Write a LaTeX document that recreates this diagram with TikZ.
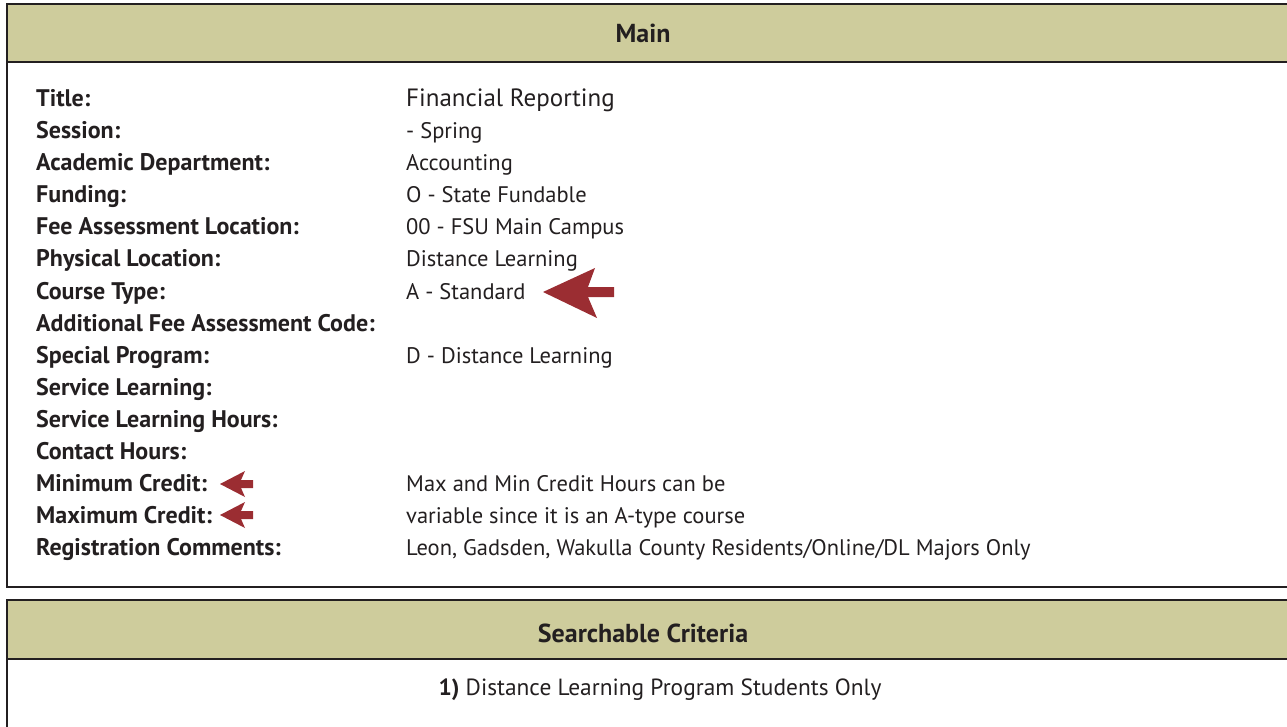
\documentclass[tikz,border=0pt]{standalone}
\usepackage{fontspec}
\setmainfont{PT Sans}
\definecolor{hdrfill}{RGB}{206,204,156}
\definecolor{edge}{RGB}{35,31,32}
\definecolor{arrowred}{RGB}{155,45,50}
\tikzset{
  lbl/.style={anchor=base west,inner sep=0pt,font=\fontsize{24}{24}\selectfont\bfseries,text=edge},
  val/.style={anchor=base west,inner sep=0pt,font=\fontsize{22.5}{22.5}\selectfont,text=edge},
  head/.style={anchor=base,inner sep=0pt,font=\fontsize{26}{26}\selectfont\bfseries,text=edge},
  panel/.style={draw=edge,line width=2.5pt},
  pointer/.style={fill=arrowred,draw=none}
}
\begin{document}
\begin{tikzpicture}[x=1pt,y=-1pt]
  \useasboundingbox (0,0) rectangle (1287,727);

  % main panel
  \fill[hdrfill] (7,4) rectangle (1300,62);
  \draw[panel] (1300,4) -- (7,4) -- (7,587) -- (1300,587);
  \draw[panel] (7,62) -- (1300,62);
  \node[head] (main) at (643,43) {Main};

  \node[lbl] (title)   at (36,107) {Title:};
  \node[lbl] (session) at (36,139) {Session:};
  \node[lbl] (dept)    at (36,171) {Academic Department:};
  \node[lbl] (fund)    at (36,203) {Funding:};
  \node[lbl] (feeloc)  at (36,235) {Fee Assessment Location:};
  \node[lbl] (physloc) at (36,267) {Physical Location:};
  \node[lbl] (ctype)   at (36,299) {Course Type:};
  \node[lbl] (addfee)  at (36,331) {Additional Fee Assessment Code:};
  \node[lbl] (special) at (36,363) {Special Program:};
  \node[lbl] (svc)     at (36,395) {Service Learning:};
  \node[lbl] (svchrs)  at (36,427) {Service Learning Hours:};
  \node[lbl] (contact) at (36,459) {Contact Hours:};
  \node[lbl] (mincr)   at (36,491) {Minimum Credit:};
  \node[lbl] (maxcr)   at (36,523) {Maximum Credit:};
  \node[lbl] (regcom)  at (36,555) {Registration Comments:};

  \node[val,font=\fontsize{25}{25}\selectfont] (titlev) at (406,107) {Financial Reporting};
  \node[val] (sessionv) at (406,139) {- Spring};
  \node[val] (deptv)    at (406,171) {Accounting};
  \node[val] (fundv)    at (406,203) {O - State Fundable};
  \node[val] (feelocv)  at (406,235) {00 - FSU Main Campus};
  \node[val] (physlocv) at (406,267) {Distance Learning};
  \node[val] (ctypev)   at (406,299) {A - Standard};
  \node[val] (specialv) at (406,363) {D - Distance Learning};
  \node[val] (mincrv)   at (406,491) {Max and Min Credit Hours can be};
  \node[val] (maxcrv)   at (406,523) {variable since it is an A-type course};
  \node[val] (regcomv)  at (406,555) {Leon, Gadsden, Wakulla County Residents/Online/DL Majors Only};

  % pointers
  \fill[pointer] (543,292) -- (595,268) -- (588,287) -- (614,287) -- (614,297)
    -- (588,297) -- (597,318) -- cycle;
  \fill[pointer] (220,484) -- (245,471) -- (241,480) -- (253,480) -- (253,488)
    -- (241,488) -- (245,497) -- cycle;
  \fill[pointer] (220,515) -- (245,502) -- (241,511) -- (253,511) -- (253,519)
    -- (241,519) -- (245,528) -- cycle;

  % searchable criteria panel
  \fill[hdrfill] (7,600) rectangle (1300,659);
  \draw[panel] (1300,600) -- (7,600) -- (7,740);
  \draw[panel] (7,659) -- (1300,659);
  \node[head] (crit) at (643,642) {Searchable Criteria};
  \node[val,anchor=base,font=\fontsize{23.4}{23.4}\selectfont] (crit1) at (660,695) {\textbf{1)} Distance Learning Program Students Only};
\end{tikzpicture}
\end{document}
